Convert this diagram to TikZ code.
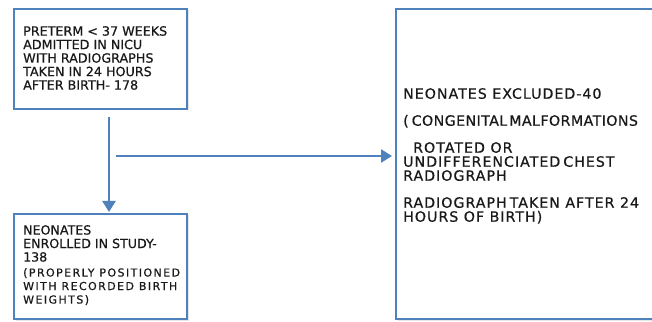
\documentclass[tikz,border=0pt]{standalone}
\usepackage{fontspec}
\setmainfont[FakeBold=0.6]{DejaVu Sans}
\newfontfamily\spacedA[LetterSpace=13,FakeBold=0.6]{DejaVu Sans}
\newfontfamily\spacedB[LetterSpace=7,FakeBold=0.6]{DejaVu Sans}
\newfontfamily\spacedC[LetterSpace=3,FakeBold=0.6]{DejaVu Sans}
\usetikzlibrary{arrows.meta,shadows}
\definecolor{boxblue}{RGB}{79,129,189}
\definecolor{txtgray}{RGB}{25,25,25}
\tikzset{
  flowbox/.style={draw=boxblue, line width=2pt, fill=white, rectangle, inner sep=0pt,
    anchor=north west, drop shadow={shadow xshift=1.5pt, shadow yshift=-1.5pt, opacity=0.2}},
  boxtext/.style={anchor=north west, inner sep=0pt, align=left, text=txtgray},
  arr/.style={draw=boxblue, line width=2.5pt, -{Triangle[width=13pt,length=11pt]}},
}
\begin{document}
\begin{tikzpicture}[x=1pt,y=1pt]
\useasboundingbox (0,0) rectangle (652,321);
\clip (0,0) rectangle (652,321);
\fill[white] (0,0) rectangle (652,321);
% boxes
\node[flowbox, minimum width=173pt, minimum height=100pt] (b1) at (13,313) {};
\node[flowbox, minimum width=173pt, minimum height=105pt] (b2) at (13,108) {};
\node[flowbox, minimum width=270pt, minimum height=310pt] (b3) at (395,313) {};
% texts
\node[boxtext, font=\fontsize{12.7}{13.5}\selectfont] (t1) at (23,295)
  {PRETERM < 37 WEEKS\\ADMITTED IN NICU\\WITH RADIOGRAPHS\\TAKEN IN 24 HOURS\\AFTER BIRTH- 178};
\node[boxtext, font=\fontsize{12.6}{13.5}\selectfont] (t2) at (23,96)
  {NEONATES\\ENROLLED IN STUDY-\\138\\[1.5pt]
   {\spacedA\fontsize{11}{14}\selectfont (PROPERLY POSITIONED}\\
   {\spacedA\fontsize{11}{14}\selectfont WITH RECORDED BIRTH}\\
   {\spacedA\fontsize{11}{14}\selectfont WEIGHTS)}};
\node[boxtext, font=\spacedB\fontsize{14.2}{14}\selectfont] (t3) at (403,233)
  {NEONATES EXCLUDED-40\\[13pt]
   {\spacedC (\hspace{3pt}CONGENITAL\hspace{2pt}MALFORMATIONS}\\[13pt]
   \hspace*{10pt}ROTATED OR\\
   UNDIFFERENCIATED\hspace{3pt}CHEST\\
   RADIOGRAPH\\[13pt]
   RADIOGRAPH\hspace{3pt}TAKEN AFTER 24\\
   HOURS OF BIRTH)};
% connectors
\coordinate (hs) at (116,165);
\draw[arr, shorten <=7pt, shorten >=1pt] ([xshift=8.5pt]b1.south) -- ([xshift=8.5pt]b2.north);
\draw[arr, shorten >=3pt] (hs) -- (hs -| b3.west);
\end{tikzpicture}
\end{document}
